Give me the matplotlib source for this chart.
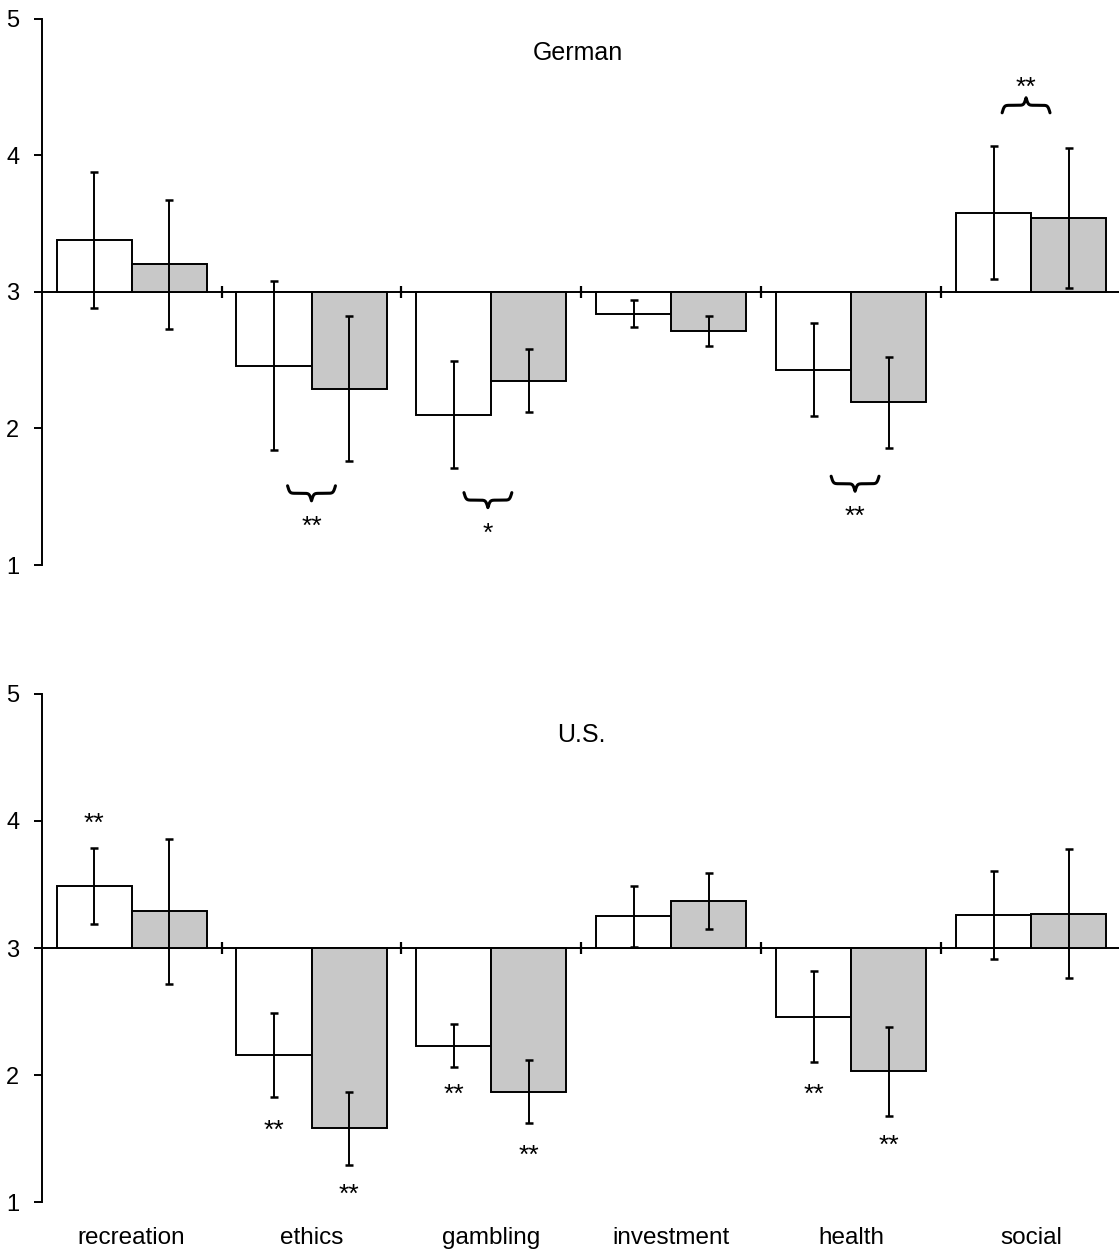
import numpy as np
import matplotlib
matplotlib.use("Agg")
import matplotlib.pyplot as plt

plt.rcParams['font.family'] = ['Liberation Sans', 'DejaVu Sans']

categories = ['recreation', 'ethics', 'gambling', 'investment', 'health', 'social']

german_white = [3.38, 2.46, 2.10, 2.84, 2.43, 3.58]
german_white_err = [0.50, 0.62, 0.39, 0.10, 0.34, 0.49]
german_gray = [3.20, 2.29, 2.35, 2.71, 2.19, 3.54]
german_gray_err = [0.47, 0.53, 0.23, 0.11, 0.33, 0.51]

us_white = [3.49, 2.16, 2.23, 3.25, 2.46, 3.26]
us_white_err = [0.30, 0.33, 0.17, 0.24, 0.36, 0.35]
us_gray = [3.29, 1.58, 1.87, 3.37, 2.03, 3.27]
us_gray_err = [0.57, 0.29, 0.25, 0.22, 0.35, 0.51]

yticks = [1, 2, 3, 4, 5]

# annotations: (x group position, y end of brace, direction)
german_braces = [(1.0, 1.58, 'down'), (1.98, 1.53, 'down'), (4.02, 1.65, 'down'), (4.97, 4.31, 'up')]
german_stars = [('**', 1.0, 1.33), ('*', 1.98, 1.28), ('**', 4.02, 1.40), ('**', 4.97, 4.54)]
us_stars = [('**', -0.208, 4.03), ('**', 0.792, 1.61), ('**', 1.208, 1.106),
            ('**', 1.792, 1.89), ('**', 2.208, 1.41), ('**', 3.792, 1.89), ('**', 4.208, 1.494)]

BASE = 3
W = 0.4167
GRAY = '#c8c8c8'
LW = 1.4


def draw_brace(ax, xc, y0, halfw, h, direction):
    u = np.linspace(0, 0.5, 120)
    beta = 45
    yh = 1 / (1 + np.exp(-beta * (u - u[0]))) + 1 / (1 + np.exp(-beta * (u - u[-1])))
    yfull = np.concatenate((yh, yh[-2::-1])) - 0.5
    xs = np.linspace(xc - halfw, xc + halfw, len(yfull))
    if direction == 'up':
        ys = y0 + yfull * h
    else:
        ys = y0 - yfull * h
    ax.plot(xs, ys, color='black', lw=2.2, solid_capstyle='round', clip_on=False)


def panel(ax, white, werr, gray, gerr, title, tx, ty, show_labels):
    x = np.arange(len(categories))
    for s in ['top', 'right', 'bottom']:
        ax.spines[s].set_visible(False)
    ax.spines['left'].set_linewidth(1.4)
    ax.spines['left'].set_position(('data', -0.5))
    ax.bar(x - W / 2, np.array(white) - BASE, width=W, bottom=BASE, color='white',
           edgecolor='black', linewidth=LW, zorder=2)
    ax.bar(x + W / 2, np.array(gray) - BASE, width=W, bottom=BASE, color=GRAY,
           edgecolor='black', linewidth=LW, zorder=2)
    ax.errorbar(x - W / 2, white, yerr=werr, fmt='none', ecolor='black',
                elinewidth=1.4, capsize=2.6, capthick=1.8, zorder=3)
    ax.errorbar(x + W / 2, gray, yerr=gerr, fmt='none', ecolor='black',
                elinewidth=1.4, capsize=2.6, capthick=1.8, zorder=3)
    ax.axhline(BASE, color='black', lw=LW, zorder=1)
    seps = x + 0.5
    ax.plot(seps, [BASE] * len(seps), linestyle='none', marker='|', markersize=9,
            mew=1.6, color='black', clip_on=False, zorder=3)
    ax.set_xlim(-0.5, 5.5)
    ax.set_ylim(1, 5)
    ax.set_yticks(yticks)
    ax.set_yticklabels([str(t) for t in yticks])
    ax.tick_params(axis='y', direction='out', length=6, width=1.4, pad=10, labelsize=17)
    if show_labels:
        ax.set_xticks(x)
        ax.set_xticklabels(categories)
        ax.tick_params(axis='x', length=0, pad=18, labelsize=17.5)
    else:
        ax.set_xticks([])
    ax.text(tx, ty, title, fontsize=18, ha='center', va='center')


fig = plt.figure(figsize=(11.19, 12.52), dpi=100)
ax1 = fig.add_axes([0.0371, 0.5487, 0.9651, 0.4365])
ax2 = fig.add_axes([0.0371, 0.0399, 0.9651, 0.4058])

panel(ax1, german_white, german_white_err, german_gray, german_gray_err, 'German', 2.48, 4.75, False)
panel(ax2, us_white, us_white_err, us_gray, us_gray_err, 'U.S.', 2.5, 4.68, True)

for xc, y0, d in german_braces:
    draw_brace(ax1, xc, y0, 0.133, 0.11, d)
for s, xs, ys in german_stars:
    ax1.text(xs, ys - 0.05, s, fontsize=19, ha='center', va='center')
for s, xs, ys in us_stars:
    ax2.text(xs, ys - 0.05, s, fontsize=19, ha='center', va='center')

fig.savefig('out.png', dpi=100)
